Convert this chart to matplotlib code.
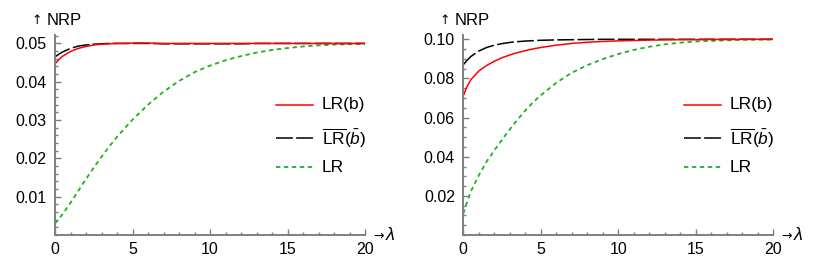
import matplotlib
matplotlib.use("Agg")
import matplotlib.pyplot as plt
from matplotlib.ticker import MultipleLocator

plt.rcParams['font.family'] = ['Liberation Sans', 'DejaVu Sans']
plt.rcParams['mathtext.fontset'] = 'custom'
plt.rcParams['mathtext.rm'] = 'Liberation Sans'
plt.rcParams['mathtext.it'] = 'Liberation Sans:italic'

# ---------------- data ----------------
lam = [0, 0.25, 0.5, 1, 1.5, 2, 2.5, 3, 3.5, 4, 4.5, 5, 6, 7, 8, 9, 10,
       11, 12, 13, 14, 15, 16, 17, 18, 19, 20]

# left panel (nominal 0.05)
left_lrb = [0.0447, 0.0458, 0.0467, 0.0479, 0.0487, 0.0492, 0.0496, 0.0498,
            0.0499, 0.0500, 0.0500, 0.0501, 0.0501, 0.0500, 0.0500, 0.0500,
            0.0500, 0.0500, 0.0500, 0.0500, 0.0500, 0.0500, 0.0500, 0.0500,
            0.0500, 0.0500, 0.0500]
left_lrbar = [0.0465, 0.0472, 0.0478, 0.0487, 0.0493, 0.0496, 0.0498, 0.0499,
              0.0500, 0.0500, 0.0500, 0.0500, 0.0500, 0.0499, 0.0499, 0.0499,
              0.0499, 0.0499, 0.0499, 0.0500, 0.0500, 0.0500, 0.0500, 0.0500,
              0.0500, 0.0500, 0.0500]
left_lr = [0.0030, 0.0042, 0.0055, 0.0084, 0.0115, 0.0146, 0.0176, 0.0204,
           0.0231, 0.0256, 0.0279, 0.0301, 0.0340, 0.0374, 0.0402, 0.0425,
           0.0442, 0.0456, 0.0467, 0.0476, 0.0483, 0.0488, 0.0492, 0.0495,
           0.0497, 0.0498, 0.0499]

# right panel (nominal 0.10)
right_lrb = [0.0712, 0.0760, 0.0795, 0.0838, 0.0866, 0.0888, 0.0906, 0.0920,
             0.0932, 0.0942, 0.0951, 0.0958, 0.0970, 0.0979, 0.0985, 0.0989,
             0.0992, 0.0994, 0.0996, 0.0997, 0.0998, 0.0998, 0.0999, 0.0999,
             0.1000, 0.1000, 0.1000]
right_lrbar = [0.0870, 0.0893, 0.0913, 0.0940, 0.0958, 0.0970, 0.0978, 0.0984,
               0.0988, 0.0991, 0.0993, 0.0995, 0.0997, 0.0998, 0.0999, 0.1000,
               0.1000, 0.1000, 0.1000, 0.1000, 0.1000, 0.1000, 0.1000, 0.1000,
               0.1000, 0.1000, 0.1000]
right_lr = [0.0110, 0.0170, 0.0225, 0.0305, 0.0375, 0.0432, 0.0487, 0.0540,
            0.0590, 0.0636, 0.0678, 0.0714, 0.0778, 0.0829, 0.0868, 0.0899,
            0.0925, 0.0946, 0.0962, 0.0974, 0.0983, 0.0989, 0.0992, 0.0995,
            0.0997, 0.0998, 0.0999]

left_yticks = [0.01, 0.02, 0.03, 0.04, 0.05]
left_ylabels = ["0.01", "0.02", "0.03", "0.04", "0.05"]
right_yticks = [0.02, 0.04, 0.06, 0.08, 0.10]
right_ylabels = ["0.02", "0.04", "0.06", "0.08", "0.10"]
xticks = [0, 5, 10, 15, 20]

labels = ["LR(b)", r"$\overline{\mathrm{LR}}(\bar{b})$", "LR"]

# ---------------- figure ----------------
W, H = 830, 270
fig = plt.figure(figsize=(W / 100, H / 100), dpi=100)

RED = '#ff0000'
BLACK = '#000000'
GREEN = '#22b022'
GRAY = '#7f7f7f'


def make_panel(left_px, ymax, yminor, yticks, ylabels, s_lrb, s_lrbar, s_lr,
               leg_x):
    ax = fig.add_axes([left_px / W, 35 / H, 310 / W, 200 / H])
    ax.plot(lam, s_lr, color=GREEN, lw=1.3, dashes=(2.4, 2.0))
    ax.plot(lam, s_lrbar, color=BLACK, lw=1.1, dashes=(11, 2.2))
    ax.plot(lam, s_lrb, color=RED, lw=1.1)
    ax.set_xlim(0, 20)
    ax.set_ylim(0, ymax)
    for s in ('top', 'right'):
        ax.spines[s].set_visible(False)
    for s in ('left', 'bottom'):
        ax.spines[s].set_color(GRAY)
        ax.spines[s].set_linewidth(1.4)
    ax.set_xticks(xticks)
    ax.set_xticklabels([str(t) for t in xticks])
    ax.xaxis.set_minor_locator(MultipleLocator(1))
    ax.set_yticks(yticks)
    ax.set_yticklabels(ylabels)
    ax.yaxis.set_minor_locator(MultipleLocator(yminor))
    ax.tick_params(which='both', direction='in', color=GRAY, width=1.0,
                   labelsize=11.5, labelcolor='black')
    ax.tick_params(which='major', length=4.0)
    ax.tick_params(which='minor', length=2.2)
    ax.tick_params(axis='y', which='major', pad=6)
    ax.tick_params(axis='x', which='major', pad=5)
    # axis labels
    fig.text((left_px - 24) / W, 1 - 21 / H, "↑", fontsize=9,
             family='DejaVu Sans', ha='left', va='center')
    fig.text((left_px - 8.5) / W, 1 - 21 / H, "NRP", fontsize=12,
             ha='left', va='center')
    fig.text((left_px + 318) / W, 34 / H, "→", fontsize=9,
             family='DejaVu Sans', ha='left', va='center')
    fig.text((left_px + 331) / W, 34 / H, "λ", fontsize=13, style='italic',
             ha='left', va='center')
    # legend
    ys = [105, 138, 167]
    styles = [dict(color=RED, lw=1.1),
              dict(color=BLACK, lw=1.1, dashes=(11, 2.2)),
              dict(color=GREEN, lw=1.3, dashes=(2.4, 2.0))]
    for y, st, lab in zip(ys, styles, labels):
        fig.add_artist(plt.Line2D([leg_x / W, (leg_x + 37) / W],
                                  [1 - y / H, 1 - y / H],
                                  transform=fig.transFigure, **st))
        fig.text((leg_x + 46) / W, 1 - y / H, lab, fontsize=12.5,
                 ha='left', va='center')
    return ax


make_panel(55, 0.0522, 0.002, left_yticks, left_ylabels,
           left_lrb, left_lrbar, left_lr, 276)
make_panel(463.3, 0.1022, 0.005, right_yticks, right_ylabels,
           right_lrb, right_lrbar, right_lr, 684)

fig.savefig("out.png", dpi=100)
